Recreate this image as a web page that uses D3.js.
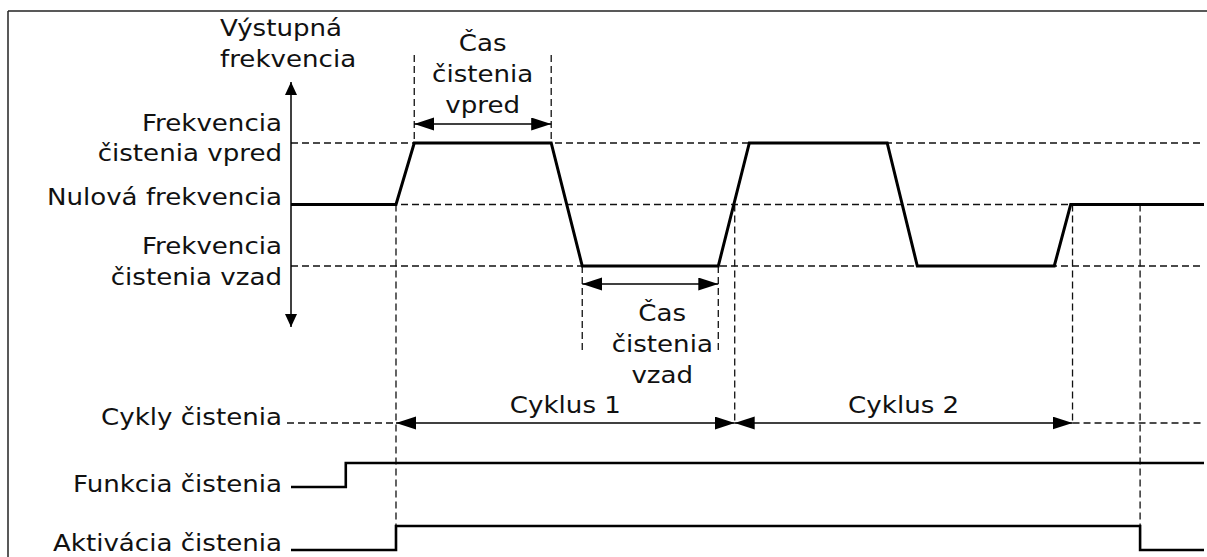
<!DOCTYPE html>
<html>
<head>
<meta charset="utf-8">
<script src="https://cdn.jsdelivr.net/npm/d3@7"></script>
<style>
  body { margin: 0; background: #fff; }
  svg { display: block; }
  text { font-family: "DejaVu Sans", Verdana, sans-serif; font-size: 22.5px; fill: #111; }
</style>
</head>
<body>
<svg id="chart" width="1207" height="557"></svg>
<script>
'use strict';

/* Data (time in arbitrary units 0..100, frequency level -1..1) */

var waveTimes  = [0, 11.5, 13.5, 28.5, 31.9, 46.8, 50.2, 65.3, 68.6, 83.6, 85.4, 100];
var waveLevels = [0, 0,    1,    1,    -1,   -1,   1,    1,    -1,   -1,   0,    0];

var levelValues = [1, 0, -1];
var levelLabels = [["Frekvencia", "čistenia vpred"], ["Nulová frekvencia"], ["Frekvencia", "čistenia vzad"]];

var cycleTimes  = [11.5, 48.6, 85.6];
var cycleLabels = ["Cyklus 1", "Cyklus 2"];

var fwdTime = [13.5, 28.5];
var revTime = [31.9, 46.8];
var fwdLabel = ["Čas", "čistenia", "vpred"];
var revLabel = ["Čas", "čistenia", "vzad"];

var signalNames = ["Funkcia čistenia", "Aktivácia čistenia"];
var funcTimes  = [0, 6.0, 6.0, 100];
var funcLevels = [0, 0, 1, 1];
var actTimes   = [0, 11.5, 11.5, 93.0, 93.0, 100];
var actLevels  = [0, 0, 1, 1, 0, 0];

var axisTitle = ["Výstupná", "frekvencia"];
var cycleRowLabel = "Cykly čistenia";

/* Layout */

var svg = d3.select("#chart");
var x = d3.scaleLinear().domain([0, 100]).range([291, 1204]);
var y = d3.scaleLinear().domain([-1, 1]).range([266, 143]);
var sigY = d3.scaleLinear().domain([0, 1]).range([0, -24]);
var rowBase = [487, 550];
var cycleY = 423;
var stretch = 1.16;

var label = function (txt, px, py, anchor) {
    svg.append("text")
        .attr("transform", "translate(" + px + "," + py + ") scale(" + stretch + ",1)")
        .attr("text-anchor", anchor)
        .text(txt);
};

var dashed = function (x1, y1, x2, y2) {
    svg.append("line")
        .attr("x1", x1).attr("y1", y1).attr("x2", x2).attr("y2", y2)
        .attr("stroke", "#111").attr("stroke-width", 1.3)
        .attr("stroke-dasharray", "7,4");
};

// arrowheads
var defs = svg.append("defs");
defs.append("marker").attr("id", "dim")
    .attr("markerUnits", "userSpaceOnUse")
    .attr("markerWidth", 21).attr("markerHeight", 14)
    .attr("refX", 20).attr("refY", 6.5)
    .attr("orient", "auto-start-reverse")
    .append("path").attr("d", "M0,0 L20,6.5 L0,13 Z").attr("fill", "#000");
defs.append("marker").attr("id", "ax")
    .attr("markerUnits", "userSpaceOnUse")
    .attr("markerWidth", 14).attr("markerHeight", 14)
    .attr("refX", 13).attr("refY", 6)
    .attr("orient", "auto-start-reverse")
    .append("path").attr("d", "M0,0 L13,6 L0,12 Z").attr("fill", "#000");

// frame (top and left edges only visible)
svg.append("line").attr("x1", 8).attr("y1", 11).attr("x2", 1207).attr("y2", 11)
    .attr("stroke", "#222").attr("stroke-width", 1.5);
svg.append("line").attr("x1", 8).attr("y1", 11).attr("x2", 8).attr("y2", 557)
    .attr("stroke", "#222").attr("stroke-width", 1.5);

// horizontal level guides
levelValues.forEach(function (v) {
    dashed(x(0), y(v), x(100), y(v));
});

// vertical guides
dashed(x(cycleTimes[0]), y(0), x(cycleTimes[0]), rowBase[1] + sigY(1));
dashed(x(fwdTime[0]), 55, x(fwdTime[0]), y(1));
dashed(x(fwdTime[1]), 55, x(fwdTime[1]), y(1));
dashed(x(revTime[0]), y(-1), x(revTime[0]), 352);
dashed(x(revTime[1]), y(-1), x(revTime[1]), 352);
dashed(x(cycleTimes[1]), y(0), x(cycleTimes[1]), cycleY);
dashed(x(cycleTimes[2]), y(0), x(cycleTimes[2]), cycleY);
dashed(x(actTimes[3]), y(0), x(actTimes[3]), rowBase[1] + sigY(1));

// cycle row guides
dashed(287, cycleY, x(cycleTimes[0]), cycleY);
dashed(x(cycleTimes[2]), cycleY, x(100), cycleY);

// vertical frequency axis
svg.append("line")
    .attr("x1", x(0)).attr("x2", x(0)).attr("y1", 82).attr("y2", 327)
    .attr("stroke", "#000").attr("stroke-width", 1.5)
    .attr("marker-start", "url(#ax)").attr("marker-end", "url(#ax)");

// output frequency waveform
var wave = d3.line()
    .x(function (d) { return x(d[0]); })
    .y(function (d) { return y(d[1]); });
svg.append("path")
    .attr("d", wave(d3.zip(waveTimes, waveLevels)))
    .attr("fill", "none").attr("stroke", "#000").attr("stroke-width", 3)
    .attr("stroke-linejoin", "miter");

// digital signals
[[funcTimes, funcLevels], [actTimes, actLevels]].forEach(function (s, i) {
    var line = d3.line()
        .x(function (d) { return x(d[0]); })
        .y(function (d) { return rowBase[i] + sigY(d[1]); });
    svg.append("path")
        .attr("d", line(d3.zip(s[0], s[1])))
        .attr("fill", "none").attr("stroke", "#000").attr("stroke-width", 2.6);
    label(signalNames[i], 282, rowBase[i] + (i === 0 ? 5 : 1), "end");
});

// dimension arrows
var dimArrow = function (t1, t2, py) {
    svg.append("line")
        .attr("x1", x(t1)).attr("x2", x(t2)).attr("y1", py).attr("y2", py)
        .attr("stroke", "#000").attr("stroke-width", 1.5)
        .attr("marker-start", "url(#dim)").attr("marker-end", "url(#dim)");
};
dimArrow(fwdTime[0], fwdTime[1], 124);
dimArrow(revTime[0], revTime[1], 284);
cycleLabels.forEach(function (c, i) {
    dimArrow(cycleTimes[i], cycleTimes[i + 1], cycleY);
});

// texts
label(axisTitle[0], 220, 36, "start");
label(axisTitle[1], 220, 67, "start");

label(levelLabels[0][0], 282, 131, "end");
label(levelLabels[0][1], 282, 161, "end");
label(levelLabels[1][0], 282, 205, "end");
label(levelLabels[2][0], 282, 254, "end");
label(levelLabels[2][1], 282, 285, "end");

var fwdMid = (x(fwdTime[0]) + x(fwdTime[1])) / 2;
fwdLabel.forEach(function (t, i) { label(t, fwdMid, 51 + i * 31, "middle"); });
var revMid = (x(revTime[0]) + x(revTime[1])) / 2 + 12;
revLabel.forEach(function (t, i) { label(t, revMid, 321 + i * 31, "middle"); });

cycleLabels.forEach(function (c, i) {
    label(c, (x(cycleTimes[i]) + x(cycleTimes[i + 1])) / 2, 413, "middle");
});
label(cycleRowLabel, 282, 425, "end");
</script>
</body>
</html>
